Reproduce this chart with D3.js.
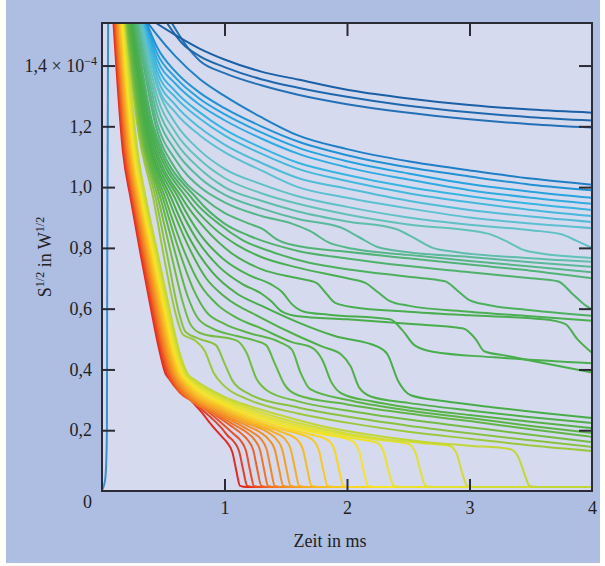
<!DOCTYPE html>
<html lang="de">
<head>
<meta charset="UTF-8">
<title>S^1/2 über der Zeit</title>
<script src="https://d3js.org/d3.v7.min.js"></script>
<style>
  body { margin: 0; background: #fff; }
  svg { display: block; font-family: "Liberation Serif", "Times New Roman", serif; }
  .tick text { font-family: "Liberation Serif", "Times New Roman", serif; font-size: 18px; fill: #222; }
  .tick line { stroke: #2a2b35; stroke-width: 2px; }
  .curve { fill: none; stroke-width: 2px; stroke-linejoin: round; stroke-linecap: round; }
</style>
</head>
<body>
<script>
// Zeit in ms, Signal in 1e-4 W^1/2. Each curve is a list of [t, value].
const xTicks = [1, 2, 3, 4];
const yTicks = [0.2, 0.4, 0.6, 0.8, 1.0, 1.2, 1.4];

// steep blue trace at t ~ 0
const spike = [[0, 0.003], [0.025, 0.035], [0.035, 0.1], [0.04, 0.2], [0.042, 0.6], [0.045, 1.0], [0.05, 1.54]];

// dark blue, top three
const darkBlue = [
  [[0.44,1.54],[0.6,1.50],[0.8,1.455],[1.0,1.42],[1.3,1.38],[1.6,1.354],[2.0,1.32],[2.45,1.294],[3.0,1.27],[3.5,1.255],[4.0,1.245]],
  [[0.53,1.54],[0.65,1.475],[0.8,1.43],[1.0,1.395],[1.3,1.355],[1.6,1.327],[2.0,1.297],[2.45,1.27],[3.0,1.246],[3.5,1.23],[4.0,1.219]],
  [[0.57,1.54],[0.68,1.47],[0.8,1.415],[1.0,1.375],[1.3,1.335],[1.6,1.304],[2.0,1.273],[2.45,1.247],[3.0,1.223],[3.5,1.207],[4.0,1.196]]
];

// blue to cyan
const blue = [
  [[0.375,1.54],[0.45,1.50],[0.6,1.43],[0.8,1.355],[1.0,1.30],[1.3,1.23],[1.6,1.17],[2.0,1.125],[2.5,1.085],[3.0,1.055],[3.5,1.028],[4.0,1.008]],
  [[0.365,1.54],[0.45,1.46],[0.6,1.38],[0.8,1.31],[1.0,1.26],[1.3,1.20],[1.6,1.15],[2.0,1.105],[2.5,1.065],[3.0,1.035],[3.5,1.008],[4.0,0.99]],
  [[0.36,1.54],[0.45,1.44],[0.6,1.36],[0.8,1.29],[1.0,1.24],[1.3,1.18],[1.6,1.13],[2.0,1.085],[2.5,1.045],[3.0,1.01],[3.5,0.985],[4.0,0.965]],
  [[0.355,1.54],[0.45,1.42],[0.6,1.34],[0.8,1.27],[1.0,1.22],[1.3,1.16],[1.6,1.11],[2.0,1.065],[2.5,1.025],[3.0,0.99],[3.5,0.965],[4.0,0.945]],
  [[0.35,1.54],[0.45,1.40],[0.6,1.315],[0.8,1.245],[1.0,1.19],[1.3,1.13],[1.6,1.08],[2.0,1.04],[2.5,1.0],[3.0,0.97],[3.5,0.945],[4.0,0.925]],
  [[0.345,1.54],[0.45,1.38],[0.6,1.295],[0.8,1.225],[1.0,1.17],[1.3,1.11],[1.6,1.06],[2.0,1.02],[2.5,0.98],[3.0,0.95],[3.5,0.925],[4.0,0.905]],
  [[0.34,1.54],[0.45,1.36],[0.6,1.27],[0.8,1.195],[1.0,1.14],[1.3,1.08],[1.6,1.03],[2.0,0.995],[2.5,0.955],[3.0,0.925],[3.5,0.903],[4.0,0.885]],
  [[0.335,1.54],[0.45,1.34],[0.6,1.245],[0.8,1.17],[1.0,1.115],[1.3,1.055],[1.6,1.0],[2.0,0.965],[2.5,0.93],[3.0,0.90],[3.5,0.88],[4.0,0.865]]
];

// teal, one step each onto the ~0.75 branch
const teal = [
  [[0.33,1.54],[0.45,1.33],[0.6,1.21],[0.8,1.12],[1.0,1.06],[1.3,1.01],[1.6,0.97],[2.0,0.935],[2.5,0.90],[3.0,0.876],[3.5,0.858],[3.75,0.845],[3.88,0.822],[4.0,0.80]],
  [[0.32,1.54],[0.45,1.30],[0.6,1.18],[0.8,1.09],[1.0,1.03],[1.3,0.98],[1.6,0.945],[2.0,0.91],[2.5,0.877],[3.15,0.847],[3.3,0.822],[3.45,0.792],[3.6,0.781],[4.0,0.767]],
  [[0.31,1.54],[0.45,1.27],[0.6,1.15],[0.8,1.06],[1.0,1.0],[1.3,0.955],[1.6,0.92],[2.0,0.887],[2.4,0.862],[2.55,0.832],[2.7,0.80],[2.9,0.786],[3.5,0.766],[4.0,0.754]],
  [[0.30,1.54],[0.45,1.24],[0.6,1.12],[0.8,1.03],[1.0,0.975],[1.3,0.93],[1.6,0.895],[1.95,0.867],[2.1,0.835],[2.25,0.803],[2.5,0.786],[3.0,0.77],[3.5,0.753],[4.0,0.738]],
  [[0.29,1.54],[0.45,1.21],[0.6,1.09],[0.8,1.0],[1.0,0.95],[1.3,0.905],[1.55,0.88],[1.7,0.855],[1.85,0.818],[2.05,0.797],[2.5,0.777],[3.0,0.757],[3.5,0.739],[4.0,0.72]],
  [[0.28,1.54],[0.44,1.2],[0.6,1.06],[0.84,0.96],[1.0,0.915],[1.2,0.88],[1.32,0.86],[1.42,0.83],[1.55,0.81],[2.0,0.787],[2.5,0.766],[3.0,0.745],[3.5,0.725],[4.0,0.70]]
];

// green, step onto the ~0.6 branch
const greenUpper = [
  [[0.27,1.54],[0.42,1.2],[0.78,0.96],[1.0,0.88],[1.2,0.84],[1.6,0.79],[2.0,0.765],[2.5,0.74],[3.0,0.72],[3.5,0.70],[3.72,0.69],[3.85,0.645],[3.95,0.61],[4.0,0.598]],
  [[0.265,1.54],[0.41,1.2],[0.74,0.96],[0.95,0.88],[1.15,0.825],[1.4,0.785],[1.7,0.75],[2.0,0.73],[2.5,0.705],[2.8,0.69],[2.9,0.66],[3.0,0.628],[3.15,0.612],[3.5,0.595],[4.0,0.577]],
  [[0.26,1.54],[0.40,1.2],[0.70,0.96],[0.9,0.87],[1.1,0.81],[1.3,0.77],[1.6,0.735],[2.0,0.70],[2.15,0.685],[2.25,0.655],[2.35,0.625],[2.5,0.61],[3.0,0.59],[3.5,0.575],[4.0,0.56]]
];

// green, two steps, ending near 0.4
const greenMid = [
  [[0.255,1.54],[0.39,1.2],[0.66,0.96],[0.85,0.86],[1.05,0.785],[1.3,0.73],[1.6,0.70],[1.75,0.685],[1.82,0.655],[1.9,0.62],[2.05,0.605],[2.5,0.59],[3.0,0.578],[3.6,0.565],[3.78,0.55],[3.88,0.50],[4.0,0.455]],
  [[0.25,1.54],[0.38,1.2],[0.63,0.96],[0.8,0.845],[1.0,0.76],[1.2,0.71],[1.38,0.68],[1.47,0.655],[1.55,0.615],[1.65,0.59],[1.85,0.58],[2.35,0.565],[2.45,0.53],[2.55,0.48],[2.7,0.458],[3.2,0.44],[4.0,0.42]],
  [[0.245,1.54],[0.37,1.2],[0.6,0.96],[0.77,0.83],[0.95,0.74],[1.15,0.68],[1.3,0.65],[1.38,0.625],[1.47,0.59],[1.6,0.575],[2.0,0.565],[2.5,0.55],[2.95,0.535],[3.05,0.50],[3.12,0.46],[3.3,0.445],[4.0,0.39]]
];

// green to yellow-green, plateau near 0.5 then one step down
const greenLow = [
  [[0.24,1.54],[0.36,1.2],[0.57,0.96],[0.73,0.82],[0.9,0.72],[1.1,0.65],[1.3,0.61],[1.6,0.555],[1.9,0.51],[2.25,0.475],[2.33,0.45],[2.42,0.36],[2.52,0.315],[2.8,0.295],[3.2,0.275],[3.6,0.257],[4.0,0.24]],
  [[0.233,1.54],[0.35,1.2],[0.545,0.96],[0.7,0.81],[0.85,0.70],[1.0,0.64],[1.3,0.57],[1.6,0.51],[1.8,0.475],[1.95,0.45],[2.03,0.41],[2.1,0.34],[2.2,0.31],[2.5,0.29],[3.0,0.265],[3.5,0.243],[4.0,0.224]],
  [[0.226,1.54],[0.34,1.2],[0.52,0.96],[0.66,0.8],[0.8,0.68],[0.95,0.61],[1.1,0.57],[1.3,0.535],[1.55,0.49],[1.72,0.47],[1.8,0.43],[1.87,0.36],[1.96,0.32],[2.2,0.295],[2.5,0.275],[3.0,0.25],[3.5,0.228],[4.0,0.207]],
  [[0.22,1.54],[0.33,1.2],[0.5,0.96],[0.63,0.79],[0.75,0.66],[0.85,0.59],[1.0,0.55],[1.2,0.52],[1.45,0.49],[1.55,0.465],[1.62,0.39],[1.7,0.335],[2.0,0.30],[2.5,0.265],[3.0,0.24],[3.5,0.214],[4.0,0.191]],
  [[0.213,1.54],[0.32,1.2],[0.48,0.96],[0.6,0.78],[0.7,0.64],[0.78,0.57],[0.9,0.535],[1.1,0.51],[1.25,0.495],[1.34,0.48],[1.41,0.42],[1.49,0.35],[1.6,0.315],[2.0,0.285],[2.5,0.255],[3.0,0.23],[3.5,0.203],[4.0,0.178]],
  [[0.206,1.54],[0.31,1.2],[0.46,0.96],[0.57,0.77],[0.66,0.62],[0.72,0.55],[0.8,0.52],[1.1,0.495],[1.18,0.455],[1.26,0.37],[1.35,0.33],[1.6,0.295],[2.0,0.265],[2.5,0.235],[3.0,0.21],[3.5,0.185],[4.0,0.161]],
  [[0.2,1.54],[0.3,1.2],[0.44,0.96],[0.54,0.76],[0.62,0.6],[0.68,0.525],[0.8,0.50],[0.93,0.48],[1.0,0.42],[1.07,0.36],[1.2,0.32],[1.6,0.275],[2.0,0.245],[2.5,0.215],[3.0,0.19],[3.5,0.167],[4.0,0.145]],
  [[0.195,1.54],[0.29,1.2],[0.42,0.96],[0.52,0.74],[0.6,0.585],[0.66,0.515],[0.76,0.495],[0.84,0.46],[0.91,0.39],[1.0,0.345],[1.2,0.30],[1.6,0.255],[2.0,0.225],[2.5,0.195],[3.0,0.172],[3.5,0.15],[4.0,0.132]]
];

// yellow to red, falling to the floor one after another
const dropping = [
  [[0.19,1.54],[0.29,1.12],[0.36,0.96],[0.45,0.79],[0.54,0.62],[0.63,0.46],[0.7,0.385],[0.76,0.365],[1.0,0.31],[1.2,0.28],[1.45,0.25],[1.8,0.213],[2.2,0.184],[2.6,0.163],[3.0,0.149],[3.33,0.138],[3.4,0.11],[3.45,0.055],[3.49,0.017],[3.55,0.013],[4,0.013]],
  [[0.184,1.54],[0.283,1.12],[0.352,0.96],[0.441,0.79],[0.531,0.62],[0.62,0.46],[0.689,0.385],[0.749,0.363],[1.0,0.304],[1.2,0.273],[1.45,0.24],[1.8,0.205],[2.2,0.176],[2.6,0.158],[2.84,0.148],[2.9,0.118],[2.94,0.06],[2.98,0.017],[3.04,0.013],[4,0.013]],
  [[0.178,1.54],[0.275,1.12],[0.344,0.96],[0.433,0.79],[0.521,0.62],[0.61,0.46],[0.677,0.385],[0.737,0.361],[1.0,0.298],[1.2,0.266],[1.45,0.232],[1.8,0.198],[2.2,0.171],[2.5,0.155],[2.56,0.125],[2.6,0.065],[2.64,0.017],[2.7,0.013],[4,0.013]],
  [[0.172,1.54],[0.268,1.12],[0.337,0.96],[0.424,0.79],[0.512,0.62],[0.6,0.46],[0.666,0.385],[0.726,0.359],[1.0,0.292],[1.2,0.259],[1.45,0.225],[1.8,0.192],[2.1,0.17],[2.25,0.158],[2.3,0.128],[2.34,0.065],[2.38,0.017],[2.44,0.013],[4,0.013]],
  [[0.166,1.54],[0.26,1.12],[0.329,0.96],[0.415,0.79],[0.502,0.62],[0.59,0.46],[0.655,0.385],[0.715,0.357],[1.0,0.286],[1.2,0.252],[1.45,0.218],[1.8,0.187],[2.04,0.165],[2.1,0.13],[2.135,0.068],[2.17,0.017],[2.23,0.013],[4,0.013]],
  [[0.16,1.54],[0.253,1.12],[0.321,0.96],[0.406,0.79],[0.493,0.62],[0.58,0.46],[0.644,0.385],[0.704,0.355],[1.0,0.28],[1.2,0.245],[1.45,0.211],[1.7,0.186],[1.85,0.166],[1.9,0.132],[1.935,0.07],[1.97,0.017],[2.03,0.013],[4,0.013]],
  [[0.154,1.54],[0.245,1.12],[0.313,0.96],[0.398,0.79],[0.484,0.62],[0.57,0.46],[0.632,0.385],[0.692,0.353],[1.0,0.274],[1.2,0.238],[1.45,0.204],[1.6,0.189],[1.72,0.168],[1.77,0.135],[1.805,0.072],[1.84,0.017],[1.9,0.013],[4,0.013]],
  [[0.148,1.54],[0.238,1.12],[0.305,0.96],[0.389,0.79],[0.474,0.62],[0.56,0.46],[0.621,0.385],[0.681,0.351],[1.0,0.268],[1.2,0.232],[1.45,0.196],[1.59,0.17],[1.64,0.137],[1.675,0.073],[1.71,0.017],[1.77,0.013],[4,0.013]],
  [[0.142,1.54],[0.23,1.12],[0.298,0.96],[0.38,0.79],[0.465,0.62],[0.55,0.46],[0.61,0.385],[0.67,0.349],[1.0,0.262],[1.2,0.226],[1.4,0.194],[1.49,0.172],[1.54,0.138],[1.575,0.074],[1.61,0.017],[1.67,0.013],[4,0.013]],
  [[0.136,1.54],[0.223,1.12],[0.29,0.96],[0.371,0.79],[0.456,0.62],[0.54,0.46],[0.599,0.385],[0.659,0.347],[1.0,0.256],[1.2,0.22],[1.35,0.194],[1.42,0.172],[1.47,0.138],[1.505,0.074],[1.54,0.017],[1.6,0.013],[4,0.013]],
  [[0.13,1.54],[0.215,1.12],[0.282,0.96],[0.363,0.79],[0.446,0.62],[0.53,0.46],[0.587,0.385],[0.647,0.345],[1.0,0.25],[1.2,0.212],[1.3,0.191],[1.36,0.17],[1.41,0.137],[1.445,0.073],[1.48,0.017],[1.54,0.013],[4,0.013]],
  [[0.124,1.54],[0.208,1.12],[0.274,0.96],[0.354,0.79],[0.437,0.62],[0.52,0.46],[0.576,0.385],[0.636,0.343],[1.0,0.244],[1.15,0.212],[1.24,0.19],[1.3,0.17],[1.345,0.136],[1.378,0.072],[1.41,0.017],[1.47,0.013],[4,0.013]],
  [[0.118,1.54],[0.2,1.12],[0.266,0.96],[0.345,0.79],[0.427,0.62],[0.51,0.46],[0.565,0.385],[0.625,0.341],[1.0,0.237],[1.1,0.213],[1.19,0.19],[1.245,0.169],[1.29,0.135],[1.323,0.071],[1.355,0.017],[1.41,0.013],[4,0.013]],
  [[0.112,1.54],[0.193,1.12],[0.259,0.96],[0.336,0.79],[0.418,0.62],[0.5,0.46],[0.554,0.385],[0.614,0.34],[0.8,0.286],[0.95,0.244],[1.05,0.215],[1.14,0.188],[1.19,0.168],[1.235,0.134],[1.268,0.07],[1.3,0.017],[1.355,0.013],[4,0.013]],
  [[0.106,1.54],[0.185,1.12],[0.251,0.96],[0.328,0.79],[0.409,0.62],[0.49,0.46],[0.542,0.385],[0.602,0.34],[0.8,0.282],[0.9,0.25],[1.0,0.215],[1.08,0.186],[1.13,0.167],[1.175,0.133],[1.208,0.069],[1.24,0.017],[1.295,0.013],[4,0.013]],
  [[0.1,1.54],[0.178,1.12],[0.243,0.96],[0.319,0.79],[0.399,0.62],[0.48,0.46],[0.531,0.385],[0.591,0.345],[0.7,0.318],[0.8,0.274],[0.9,0.238],[0.98,0.205],[1.03,0.18],[1.075,0.163],[1.12,0.13],[1.153,0.068],[1.185,0.017],[1.24,0.013],[4,0.013]],
  [[0.094,1.54],[0.17,1.12],[0.235,0.96],[0.31,0.79],[0.39,0.62],[0.47,0.46],[0.52,0.385],[0.58,0.36],[0.7,0.31],[0.8,0.265],[0.92,0.205],[0.98,0.178],[1.02,0.16],[1.065,0.127],[1.097,0.066],[1.127,0.017],[1.18,0.013],[4,0.013]]
];

const W = 605, H = 566;
const x = d3.scaleLinear().domain([0, 4]).range([102, 592]);
const y = d3.scaleLinear().domain([0, 1.54]).range([491, 23]);

// colour runs from the top curve (dark blue) to the bottom one (red)
const colour = d3.scaleLinear()
  .domain([0, 2, 3, 5, 7, 10, 12, 14, 16, 19, 23, 27, 30, 31, 33, 35, 37, 40, 43, 47])
  .range(["#1b5fa6", "#2470b6", "#1e7fc6", "#26a2df", "#38b4e2", "#5cc0d2", "#62c2ba", "#5ab99a",
          "#52b376", "#4aae52", "#48ad48", "#62b646", "#9cc83e", "#c2d736", "#e2e030", "#f6e426",
          "#f8c824", "#f5a024", "#f27424", "#e32a22"])
  .interpolate(d3.interpolateRgb);

const svg = d3.select("body").append("svg")
  .attr("width", W)
  .attr("height", H);

// outer panel and plot area
svg.append("rect").attr("x", 6).attr("y", 0).attr("width", 594).attr("height", 563).attr("fill", "#aebde2");
svg.append("rect")
  .attr("x", x(0)).attr("y", y(1.54))
  .attr("width", x(4) - x(0)).attr("height", y(0) - y(1.54))
  .attr("fill", "#d5daee");

svg.append("defs").append("clipPath").attr("id", "plot")
  .append("rect")
  .attr("x", x(0)).attr("y", y(1.54))
  .attr("width", x(4) - x(0)).attr("height", y(0) - y(1.54));

const line = d3.line()
  .x(d => x(d[0]))
  .y(d => y(d[1]))
  .curve(d3.curveMonotoneX);

const curves = [...darkBlue, ...blue, ...teal, ...greenUpper, ...greenMid, ...greenLow, ...dropping];
const nUpper = darkBlue.length + blue.length + teal.length;

const plot = svg.append("g").attr("clip-path", "url(#plot)");

// draw bottom curves first, blue ones end up on top
plot.selectAll(".curve")
  .data(curves.map((c, i) => ({ pts: c, i })).reverse())
  .join("path")
  .attr("class", "curve")
  .attr("d", d => line(d.pts))
  .attr("stroke", d => colour(d.i))
  .attr("stroke-width", d => d.i < 3 ? 2.6 : (d.i < nUpper ? 2.3 : 2.1));

plot.append("path")
  .attr("class", "curve")
  .attr("d", line(spike))
  .attr("stroke", "#3a8fd2")
  .attr("stroke-width", 2);

// frame
svg.append("rect")
  .attr("x", x(0)).attr("y", y(1.54))
  .attr("width", x(4) - x(0)).attr("height", y(0) - y(1.54))
  .attr("fill", "none").attr("stroke", "#2a2b35").attr("stroke-width", 2);

const comma = d => d3.format(".1f")(d).replace(".", ",");

svg.append("g")
  .attr("transform", `translate(${x(0)},0)`)
  .call(d3.axisLeft(y).tickValues(yTicks).tickSize(-13).tickPadding(10)
    .tickFormat(d => d === 1.4 ? "" : comma(d)))
  .call(g => g.select(".domain").remove());

svg.append("g")
  .attr("transform", `translate(${x(4)},0)`)
  .call(d3.axisRight(y).tickValues(yTicks).tickSize(-13).tickFormat(""))
  .call(g => g.select(".domain").remove());

svg.append("g")
  .attr("transform", `translate(0,${y(1.54)})`)
  .call(d3.axisTop(x).tickValues(xTicks.slice(0, 3)).tickSize(-13).tickFormat(""))
  .call(g => g.select(".domain").remove());

svg.append("g")
  .attr("transform", `translate(0,${y(0)})`)
  .call(d3.axisBottom(x).tickValues(xTicks).tickSize(-12).tickPadding(10).tickFormat(d3.format("d")))
  .call(g => g.select(".domain").remove())
  .call(g => g.selectAll(".tick line").filter(d => d === 4).remove());

// top y label with the power of ten
const topLabel = svg.append("text")
  .attr("x", 97).attr("y", y(1.4) + 6)
  .attr("text-anchor", "end")
  .attr("font-size", 18).attr("fill", "#222");
topLabel.append("tspan").text(comma(1.4) + " \u00d7 10");
topLabel.append("tspan").attr("dy", -7).attr("font-size", 12).text("\u22124");

svg.append("text")
  .attr("x", 92).attr("y", 508)
  .attr("text-anchor", "end")
  .attr("font-size", 18).attr("fill", "#222")
  .text("0");

// axis titles
svg.append("text")
  .attr("x", 330).attr("y", 547)
  .attr("text-anchor", "middle")
  .attr("font-size", 18).attr("fill", "#222")
  .text("Zeit in ms");

const yTitle = svg.append("text")
  .attr("transform", `translate(51,${(y(0) + y(1.54)) / 2}) rotate(-90)`)
  .attr("text-anchor", "middle")
  .attr("font-size", 18).attr("fill", "#222");
yTitle.append("tspan").text("S");
yTitle.append("tspan").attr("dy", -7).attr("font-size", 12).text("1/2");
yTitle.append("tspan").attr("dy", 7).text(" in W");
yTitle.append("tspan").attr("dy", -7).attr("font-size", 12).text("1/2");
</script>
</body>
</html>
